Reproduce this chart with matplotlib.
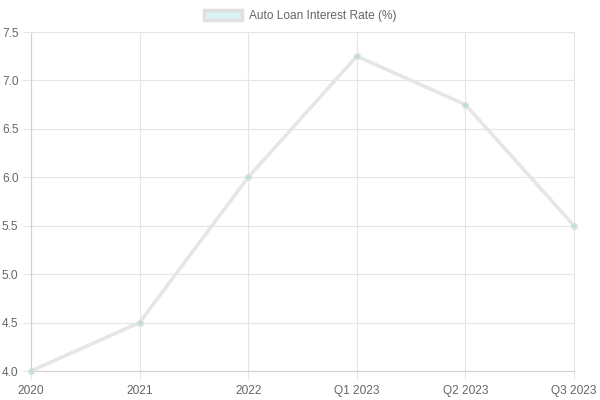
import matplotlib
matplotlib.use("Agg")
import matplotlib.pyplot as plt
from matplotlib.patches import Patch

categories = ["2020", "2021", "2022", "Q1 2023", "Q2 2023", "Q3 2023"]
rates = [4.0, 4.5, 6.0, 7.25, 6.75, 5.5]
y_ticks = [4.0, 4.5, 5.0, 5.5, 6.0, 6.5, 7.0, 7.5]
series_name = "Auto Loan Interest Rate (%)"

plt.rcParams['font.family'] = ['Liberation Sans', 'DejaVu Sans']

fig = plt.figure(figsize=(6, 4), dpi=100)
ax = fig.add_axes([31/600, 29/400, 543/600, 339/400])

x = list(range(len(categories)))
ax.plot(x, rates, color='#e6e6e6', linewidth=2.6, zorder=3, solid_capstyle='round',
        clip_on=False)
ax.scatter(x, rates, s=16, facecolor=(75/255, 192/255, 192/255, 0.25),
           edgecolor='#d8e0e0', linewidth=1, zorder=4, clip_on=False)

ax.set_xlim(0, len(categories) - 1)
ax.set_ylim(4.0, 7.5)
ax.set_xticks(x)
ax.set_xticklabels(categories)
ax.set_yticks(y_ticks)
ax.set_yticklabels([f"{v:.1f}" for v in y_ticks])

grid_c = '#e5e5e5'
ax.grid(True, color=grid_c, linewidth=0.8, alpha=1.0)
for s in ax.spines.values():
    s.set_color(grid_c)
    s.set_linewidth(0.8)
ax.spines['left'].set_color('#d0d0d0')
ax.spines['bottom'].set_color('#d0d0d0')
ax.tick_params(axis='both', colors=grid_c, labelcolor='#666666', labelsize=8.6,
               length=6, width=0.8)
ax.tick_params(axis='x', pad=4)
ax.tick_params(axis='y', pad=3)
ax.set_axisbelow(True)

handle = Patch(facecolor=(75/255, 192/255, 192/255, 0.2), edgecolor='#e0e0e0', linewidth=2.5)
fig.legend([handle], [series_name], loc='center', bbox_to_anchor=(0.5, 1 - 16/400),
           frameon=False, fontsize=8.6, labelcolor='#666666', handlelength=3.2,
           handleheight=0.9, handletextpad=0.6)

fig.savefig("out.png", dpi=100)
